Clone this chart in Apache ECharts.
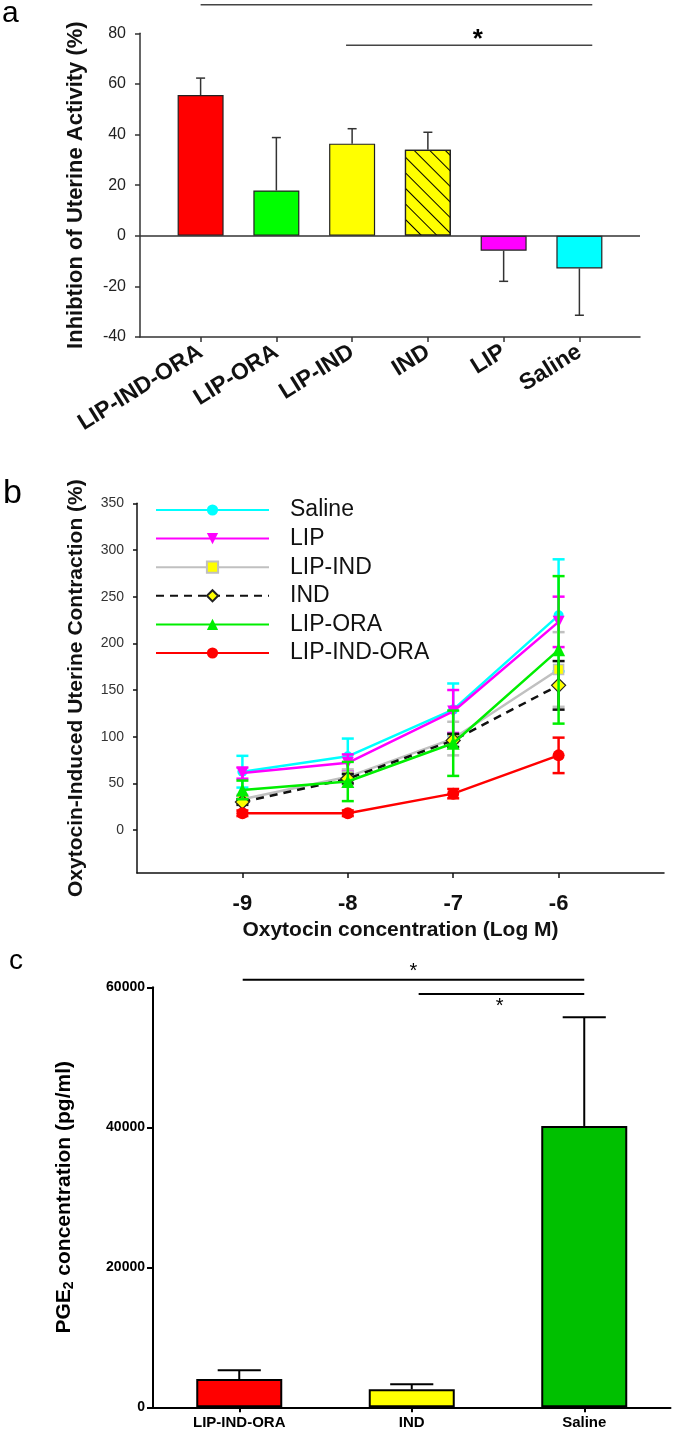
<!DOCTYPE html>
<html>
<head>
<meta charset="utf-8">
<script src="https://cdn.jsdelivr.net/npm/echarts@6/dist/echarts.min.js"></script>
<style>html,body{margin:0;padding:0;background:#fff}#c{width:675px;height:1432px}</style>
</head>
<body>
<div id="c"></div>
<script>
// ---------- Panel a data ----------
const catsA = ['LIP-IND-ORA', 'LIP-ORA', 'LIP-IND', 'IND', 'LIP', 'Saline'];
const valsA = [55.6, 17.9, 36.4, 34.0, -5.9, -12.9];
const errA  = [6.7, 20.9, 5.9, 6.9, 12.1, 18.5];

// ---------- Panel b data ----------
const doses = [-9, -8, -7, -6];
const ticksB = [0, 50, 100, 150, 200, 250, 300, 350];
const salineB    = [62.5, 79, 129, 230];
const salineBErr = [17, 19, 28, 60];
const lipB       = [61, 72, 127, 223];
const lipBErr    = [6, 9, 23, 27];
const lipIndB    = [33, 57, 98, 172];
const lipIndBErr = [4, 8, 18, 40];
const indB       = [30, 55, 96, 155];
const indBErr    = [3, 5, 7, 26];
const lipOraB    = [43, 52, 93, 193];
const lipOraBErr = [10, 21, 35, 79];
const lipIndOraB    = [18, 18, 39, 80];
const lipIndOraBErr = [3, 3, 5, 19];

// ---------- Panel c data ----------
const catsC = ['LIP-IND-ORA', 'IND', 'Saline'];
const valsC = [4040, 2570, 40190];
const errC  = [1250, 720, 15530];

// ---------- styles ----------
const FF = 'Liberation Sans, Arial, sans-serif';
const colorsA = ['#FF0000', '#00FF00', '#FFFF00', '#FFFF00', '#FF00FF', '#00FFFF'];
const colorsC = ['#FF0000', '#FFFF00', '#00C000'];

const chart = echarts.init(document.getElementById('c'), null, {renderer: 'canvas'});

function errBarsB(vals, errs, color, z) {
  return {
    type: 'custom', xAxisIndex: 1, yAxisIndex: 1, silent: true, z: z,
    data: doses.map((d, i) => [d, vals[i] - errs[i], vals[i] + errs[i]]),
    encode: {x: 0, y: [1, 2]},
    renderItem: function (params, api) {
      const x = api.value(0);
      const p1 = api.coord([x, api.value(1)]);
      const p2 = api.coord([x, api.value(2)]);
      const w = 6;
      const st = {stroke: color, lineWidth: 2.5};
      return {type: 'group', children: [
        {type: 'line', shape: {x1: p1[0], y1: p1[1], x2: p2[0], y2: p2[1]}, style: st},
        {type: 'line', shape: {x1: p1[0] - w, y1: p1[1], x2: p1[0] + w, y2: p1[1]}, style: st},
        {type: 'line', shape: {x1: p2[0] - w, y1: p2[1], x2: p2[0] + w, y2: p2[1]}, style: st}
      ]};
    }
  };
}

function lineB(name, vals, color, symbol, size, extra) {
  return Object.assign({
    type: 'line', name: name, xAxisIndex: 1, yAxisIndex: 1,
    data: doses.map((d, i) => [d, vals[i]]),
    symbol: symbol, symbolSize: size,
    lineStyle: {color: color, width: 2.5},
    itemStyle: {color: color},
    emphasis: {disabled: true}
  }, extra || {});
}

// significance annotations (in data units of each panel)
const sigA = [{x1: 0, x2: 5.17, y: 91.3}, {x1: 1.92, x2: 5.17, y: 75.3}];
const starA = [{x: 3.66, y: 77.5}];
const sigC = [{x1: 0.02, x2: 2, y: 61086}, {x1: 1.04, x2: 2, y: 59043}];
const starC = [{x: 1.01, y: 62300}, {x: 1.51, y: 57300}];

function sigLine(xi, yi, data, color, width) {
  return {
    type: 'custom', xAxisIndex: xi, yAxisIndex: yi, silent: true, clip: false,
    data: data.map(s => [s.x1, s.y, s.x2]),
    encode: {x: 0, y: 1},
    renderItem: function (params, api) {
      const a = api.coord([api.value(0), api.value(1)]);
      const b = api.coord([api.value(2), api.value(1)]);
      return {type: 'line', shape: {x1: a[0], y1: a[1], x2: b[0], y2: b[1]}, style: {stroke: color, lineWidth: width}};
    }
  };
}
function stars(xi, yi, data, font) {
  return {
    type: 'custom', xAxisIndex: xi, yAxisIndex: yi, silent: true, clip: false,
    data: data.map(s => [s.x, s.y]),
    encode: {x: 0, y: 1},
    renderItem: function (params, api) {
      const p = api.coord([api.value(0), api.value(1)]);
      return {type: 'text', x: p[0], y: p[1], style: {text: '*', font: font, fill: '#000', align: 'center', verticalAlign: 'middle'}};
    }
  };
}

const option = {
  animation: false,
  backgroundColor: '#fff',
  textStyle: {fontFamily: FF},
  graphic: [
    {type: 'text', left: 2, top: -1, style: {text: 'a', font: '30px ' + FF, fill: '#000'}},
    {type: 'text', left: 3, top: 477, style: {text: 'b', font: '34px ' + FF, fill: '#000'}},
    {type: 'text', left: 9, top: 947, style: {text: 'c', font: '28px ' + FF, fill: '#000'}}
  ],
  legend: {
    data: ['Saline', 'LIP', 'LIP-IND', 'IND', 'LIP-ORA', 'LIP-IND-ORA'],
    orient: 'vertical', left: 150, top: 491,
    itemWidth: 113, itemHeight: 14, itemGap: 0.6,
    selectedMode: false,
    textStyle: {fontSize: 23, fontFamily: FF, color: '#111', lineHeight: 28, padding: [0, 0, 0, 16]}
  },
  grid: [
    {left: 140, right: 35, top: 33.3, bottom: 1095},
    {left: 137, right: 11, top: 503.3, bottom: 559},
    {left: 153, right: 4.5, top: 987.3, bottom: 24.7}
  ],
  xAxis: [
    {
      gridIndex: 0, type: 'value', min: -0.8, max: 5.8,
      splitLine: {show: false},
      axisLine: {onZero: false, lineStyle: {color: '#333', width: 1.5}},
      axisTick: {customValues: [0, 1, 2, 3, 4, 5], length: 5, lineStyle: {color: '#333', width: 1.5}},
      axisLabel: {customValues: [0, 1, 2, 3, 4, 5], formatter: v => catsA[Math.round(v)],
        rotate: 32, margin: 13, fontSize: 23, fontWeight: 'bold', color: '#111', fontFamily: FF}
    },
    {
      gridIndex: 1, type: 'value', min: -10, max: -5,
      splitLine: {show: false},
      axisLine: {onZero: false, lineStyle: {color: '#111', width: 1.5}},
      axisTick: {customValues: doses, length: 5, lineStyle: {color: '#111', width: 1.5}},
      axisLabel: {customValues: doses, margin: 20, fontSize: 22, fontWeight: 'bold', color: '#111', fontFamily: FF},
      name: 'Oxytocin concentration (Log M)', nameLocation: 'middle', nameGap: 47,
      nameTextStyle: {fontSize: 21, fontWeight: 'bold', color: '#111', fontFamily: FF}
    },
    {
      gridIndex: 2, type: 'value', min: -0.5, max: 2.5,
      splitLine: {show: false},
      axisLine: {onZero: false, lineStyle: {color: '#000', width: 2}},
      axisTick: {customValues: [0, 1, 2], length: 5, lineStyle: {color: '#000', width: 2}},
      axisLabel: {customValues: [0, 1, 2], formatter: v => catsC[Math.round(v)],
        margin: 8, fontSize: 15, fontWeight: 'bold', color: '#000', fontFamily: FF}
    }
  ],
  yAxis: [
    {
      gridIndex: 0, type: 'value', min: -40, max: 80, interval: 20,
      splitLine: {show: false},
      axisLine: {show: true, onZero: false, lineStyle: {color: '#333', width: 1.5}},
      axisTick: {show: true, length: 5, lineStyle: {color: '#333', width: 1.5}},
      axisLabel: {margin: 14, fontSize: 16, color: '#222', fontFamily: FF},
      name: 'Inhibtion of Uterine Activity (%)', nameLocation: 'middle', nameGap: 53,
      nameTextStyle: {fontSize: 22, fontWeight: 'bold', color: '#111', fontFamily: FF}
    },
    {
      gridIndex: 1, type: 'value', min: -46, max: 350,
      splitLine: {show: false},
      axisLine: {show: true, onZero: false, lineStyle: {color: '#111', width: 1.5}},
      axisTick: {show: true, customValues: ticksB, length: 4, lineStyle: {color: '#111', width: 1.5}},
      axisLabel: {customValues: ticksB, margin: 13, fontSize: 14, color: '#333', fontFamily: FF},
      name: 'Oxytocin-Induced Uterine Contraction (%)', nameLocation: 'middle', nameGap: 50,
      nameTextStyle: {fontSize: 21, fontWeight: 'bold', color: '#111', fontFamily: FF}
    },
    {
      gridIndex: 2, type: 'value', min: 0, max: 60000, interval: 20000,
      splitLine: {show: false},
      axisLine: {show: true, onZero: false, lineStyle: {color: '#000', width: 2}},
      axisTick: {show: true, length: 6, lineStyle: {color: '#000', width: 2}},
      axisLabel: {margin: 8, fontSize: 14, fontWeight: 'bold', color: '#000', fontFamily: FF, formatter: v => String(v)},
      name: '{a|PGE}{s|2}{a| concentration (pg/ml)}', nameLocation: 'middle', nameGap: 77,
      nameTextStyle: {fontSize: 21, fontWeight: 'bold', color: '#000', fontFamily: FF,
        rich: {a: {fontSize: 21, fontWeight: 'bold', fontFamily: FF, color: '#000'},
               s: {fontSize: 14, fontWeight: 'bold', fontFamily: FF, color: '#000', verticalAlign: 'bottom', padding: [9, 0, 0, 0]}}}
    }
  ],
  series: [
    // ---- panel a bars ----
    {
      type: 'bar', xAxisIndex: 0, yAxisIndex: 0, barWidth: 46,
      data: valsA.map((v, i) => ({
        value: [i, v],
        itemStyle: Object.assign({color: colorsA[i], borderColor: '#222', borderWidth: 1.2},
          catsA[i] === 'IND' ? {decal: {symbol: 'rect', symbolSize: 1, color: '#000',
            dashArrayX: [1, 0], dashArrayY: [1, 10], rotation: Math.PI / 4}} : {})
      })),
      emphasis: {disabled: true},
      markLine: {silent: true, symbol: 'none', label: {show: false},
        lineStyle: {color: '#333', width: 1.5, type: 'solid'}, data: [{yAxis: 0}]}
    },
    // ---- panel a error bars ----
    {
      type: 'custom', xAxisIndex: 0, yAxisIndex: 0, silent: true, z: 3,
      data: valsA.map((v, i) => [i, v, v + (v >= 0 ? errA[i] : -errA[i])]),
      encode: {x: 0, y: [1, 2]},
      renderItem: function (params, api) {
        const x = api.value(0);
        const p1 = api.coord([x, api.value(1)]);
        const p2 = api.coord([x, api.value(2)]);
        const st = {stroke: '#333', lineWidth: 1.5};
        return {type: 'group', children: [
          {type: 'line', shape: {x1: p1[0], y1: p1[1], x2: p2[0], y2: p2[1]}, style: st},
          {type: 'line', shape: {x1: p2[0] - 4.5, y1: p2[1], x2: p2[0] + 4.5, y2: p2[1]}, style: st}
        ]};
      }
    },
    sigLine(0, 0, sigA, '#444', 1.5),
    stars(0, 0, starA, 'bold 26px ' + FF),
    // ---- panel b ----
    errBarsB(salineB, salineBErr, '#00FFFF', 2),
    lineB('Saline', salineB, '#00FFFF', 'circle', 10, {z: 2}),
    errBarsB(lipB, lipBErr, '#FF00FF', 3),
    lineB('LIP', lipB, '#FF00FF', 'triangle', 12, {symbolRotate: 180, z: 3}),
    errBarsB(lipIndB, lipIndBErr, '#C0C0C0', 4),
    lineB('LIP-IND', lipIndB, '#C0C0C0', 'rect', 10, {z: 4,
      itemStyle: {color: '#FFFF00', borderColor: '#C0C0C0', borderWidth: 1.5}}),
    errBarsB(indB, indBErr, '#111', 5),
    lineB('IND', indB, '#111', 'diamond', 14, {z: 5,
      lineStyle: {color: '#111', width: 2.5, type: [8, 6]},
      itemStyle: {color: '#FFFF00', borderColor: '#222', borderWidth: 1.2}}),
    errBarsB(lipOraB, lipOraBErr, '#00EE00', 6),
    lineB('LIP-ORA', lipOraB, '#00EE00', 'triangle', 13, {z: 6}),
    errBarsB(lipIndOraB, lipIndOraBErr, '#FF0000', 7),
    lineB('LIP-IND-ORA', lipIndOraB, '#FF0000', 'circle', 12, {z: 7}),
    // ---- panel c bars ----
    {
      type: 'bar', xAxisIndex: 2, yAxisIndex: 2, barWidth: 86,
      data: valsC.map((v, i) => ({value: [i, v], itemStyle: {color: colorsC[i], borderColor: '#000', borderWidth: 2}})),
      emphasis: {disabled: true}
    },
    {
      type: 'custom', xAxisIndex: 2, yAxisIndex: 2, silent: true, z: 3,
      data: valsC.map((v, i) => [i, v, v + errC[i]]),
      encode: {x: 0, y: [1, 2]},
      renderItem: function (params, api) {
        const x = api.value(0);
        const p1 = api.coord([x, api.value(1)]);
        const p2 = api.coord([x, api.value(2)]);
        const hw = api.size([1, 0])[0] * 0.125;
        const st = {stroke: '#000', lineWidth: 2};
        return {type: 'group', children: [
          {type: 'line', shape: {x1: p1[0], y1: p1[1], x2: p2[0], y2: p2[1]}, style: st},
          {type: 'line', shape: {x1: p2[0] - hw, y1: p2[1], x2: p2[0] + hw, y2: p2[1]}, style: st}
        ]};
      }
    },
    sigLine(2, 2, sigC, '#000', 2),
    stars(2, 2, starC, '20px ' + FF)
  ]
};
chart.setOption(option);
</script>
</body>
</html>
